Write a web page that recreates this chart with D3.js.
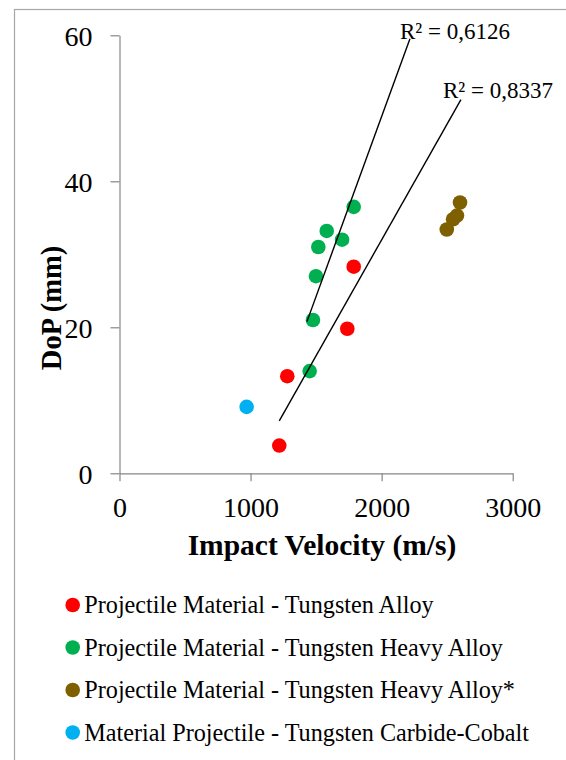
<!DOCTYPE html>
<html>
<head>
<meta charset="utf-8">
<script src="https://cdn.jsdelivr.net/npm/d3@7"></script>
<style>
  html, body { margin: 0; padding: 0; background: #fff; }
  svg text { font-family: "Times New Roman", "Liberation Serif", Times, "DejaVu Serif", serif; }
</style>
</head>
<body>
<svg id="chart" width="566" height="760"></svg>
<script>
// series (impact velocity m/s, depth of penetration mm)
var seriesNames = [
  "Projectile Material - Tungsten Alloy",
  "Projectile Material - Tungsten Heavy Alloy",
  "Projectile Material - Tungsten Heavy Alloy*",
  "Material Projectile - Tungsten Carbide-Cobalt"
];
var seriesColors = ["#ff0000", "#00b050", "#7f6000", "#00b0f0"];

var alloyX = [1219, 1280, 1738, 1787];
var alloyY = [3.8, 13.3, 19.8, 28.3];

var heavyX = [1451, 1476, 1499, 1517, 1581, 1698, 1787];
var heavyY = [14.0, 21.0, 27.0, 31.0, 33.2, 32.0, 36.5];

var heavyStarX = [2598, 2575, 2545, 2497];
var heavyStarY = [37.1, 35.3, 34.8, 33.4];

var carbideX = [970];
var carbideY = [9.1];

// trendlines: which series, x extent drawn, label
var trendSeries = [1, 0];
var trendFrom = [1430, 1219];
var trendTo = [2216, 2605];
var trendLabels = ["R\u00b2 = 0,6126", "R\u00b2 = 0,8337"];

var xTicks = [0, 1000, 2000, 3000];
var yTicks = [0, 20, 40, 60];

var seriesX = [alloyX, heavyX, heavyStarX, carbideX];
var seriesY = [alloyY, heavyY, heavyStarY, carbideY];

var svg = d3.select("#chart");
var axisColor = "#868686";

// outer chart border (runs off the right/bottom of the picture)
svg.append("rect")
  .attr("x", 14.5).attr("y", 9.5)
  .attr("width", 600).attr("height", 800)
  .attr("fill", "none")
  .attr("stroke", "#a6a6a6")
  .attr("stroke-width", 1.2);

var x = d3.scaleLinear().domain([0, 3000]).range([119.5, 512.7]);
var y = d3.scaleLinear().domain([0, 60]).range([473.3, 35.3]);

var yAxis = svg.append("g")
  .attr("transform", "translate(119.5,0)")
  .call(d3.axisLeft(y).tickValues(yTicks).tickFormat(d3.format("d"))
    .tickSize(9).tickPadding(18).tickSizeOuter(0));

var xAxis = svg.append("g")
  .attr("transform", "translate(0,473.3)")
  .call(d3.axisBottom(x).tickValues(xTicks).tickFormat(d3.format("d"))
    .tickSize(8).tickPadding(0).tickSizeOuter(0));

[yAxis, xAxis].forEach(function(g) {
  g.attr("font-family", null);
  g.select(".domain").attr("stroke", axisColor).attr("stroke-width", 1.2);
  g.selectAll(".tick line").attr("stroke", axisColor).attr("stroke-width", 1.2);
  g.selectAll(".tick text")
    .attr("fill", "#000")
    .style("font-size", "28px");
});
yAxis.selectAll(".tick text").attr("dy", "0.35em");
xAxis.selectAll(".tick text").attr("y", 43.5).attr("dy", 0);

// axis titles
svg.append("text")
  .attr("transform", "translate(61,308) rotate(-90)")
  .attr("text-anchor", "middle")
  .style("font-size", "28.5px")
  .style("font-weight", "bold")
  .text("DoP (mm)");

svg.append("text")
  .attr("x", 322).attr("y", 555)
  .attr("text-anchor", "middle")
  .style("font-size", "29.5px")
  .style("font-weight", "bold")
  .text("Impact Velocity (m/s)");

// points
seriesX.forEach(function(xs, s) {
  svg.append("g").selectAll("circle")
    .data(xs.map(function(v, i) { return [v, seriesY[s][i]]; }))
    .enter().append("circle")
    .attr("cx", function(d) { return x(d[0]); })
    .attr("cy", function(d) { return y(d[1]); })
    .attr("r", 7.3)
    .attr("fill", seriesColors[s]);
});

// linear trendlines fitted on the series
function fit(xs, ys) {
  var mx = d3.mean(xs), my = d3.mean(ys);
  var sxy = d3.sum(xs, function(v, i) { return (v - mx) * (ys[i] - my); });
  var sxx = d3.sum(xs, function(v) { return (v - mx) * (v - mx); });
  var b = sxy / sxx;
  return function(v) { return my + b * (v - mx); };
}

var labelDx = [-10, -18];
var labelDy = [0.5, -2];
trendSeries.forEach(function(s, t) {
  var f = fit(seriesX[s], seriesY[s]);
  var x0 = trendFrom[t], x1 = trendTo[t];
  svg.append("line")
    .attr("x1", x(x0)).attr("y1", y(f(x0)))
    .attr("x2", x(x1)).attr("y2", y(f(x1)))
    .attr("stroke", "#000")
    .attr("stroke-width", 1.4);
  svg.append("text")
    .attr("x", x(x1) + labelDx[t])
    .attr("y", y(f(x1)) + labelDy[t])
    .style("font-size", "23px")
    .text(trendLabels[t]);
});

// legend
var legend = svg.append("g").selectAll("g")
  .data(seriesNames)
  .enter().append("g")
  .attr("transform", function(d, i) { return "translate(0," + (613.3 + i * 42.5) + ")"; });

legend.append("circle")
  .attr("cx", 72.7).attr("cy", -8.3).attr("r", 7.3)
  .attr("fill", function(d, i) { return seriesColors[i]; });

legend.append("text")
  .attr("x", 84.3).attr("y", 0)
  .style("font-size", "24.2px")
  .text(function(d) { return d; });
</script>
</body>
</html>
